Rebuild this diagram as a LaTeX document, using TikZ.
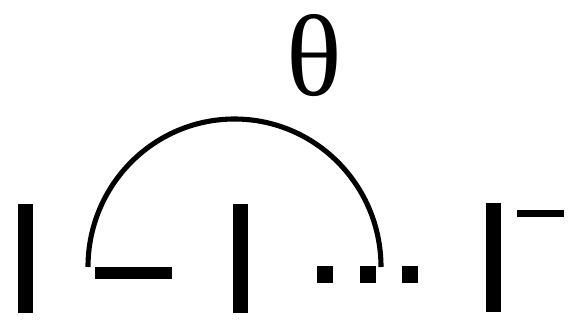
\documentclass[tikz,border=0pt]{standalone}
\usepackage{fontspec}
\setmainfont{Liberation Serif}
\tikzset{
    bar/.style={fill=black, inner sep=0pt, minimum width=0.3cm,
                minimum height=2.18cm},
    minusbar/.style={fill=black, inner sep=0pt, minimum width=1.54cm,
                     minimum height=0.24cm},
    dotbox/.style={fill=black, inner sep=0pt, minimum width=0.32cm,
                   minimum height=0.34cm},
    overbar/.style={fill=black, inner sep=0pt, minimum width=0.94cm,
                    minimum height=0.14cm},
    arcline/.style={line width=2.9pt},
    sym/.style={font=\fontsize{66}{66}\selectfont, inner sep=0pt},
}

\begin{document}
\begin{tikzpicture}[x=0.02cm, y=-0.02cm]
    \useasboundingbox (0,0) rectangle (572,329);

    \node[sym] (theta) at (314,56) {θ};

    \node[bar] (first) at (25.5,258.5) {};
    \node[minusbar] (minus) at (133.5,273) {};
    \node[bar] (second) at (240.5,258.5) {};
    \node[dotbox] (dotA) at (325,274) {};
    \node[dotbox] (dotB) at (367.5,274) {};
    \node[dotbox] (dotC) at (409.5,274) {};
    \node[bar] (last) at (493.5,257.5) {};
    \node[overbar] (top) at (540.5,213.5) {};

    \coordinate (arcstart) at (88,267);
    \draw[arcline] (arcstart) arc[start angle=180, end angle=360,
                                x radius=146.5, y radius=148];

\end{tikzpicture}
\end{document}
